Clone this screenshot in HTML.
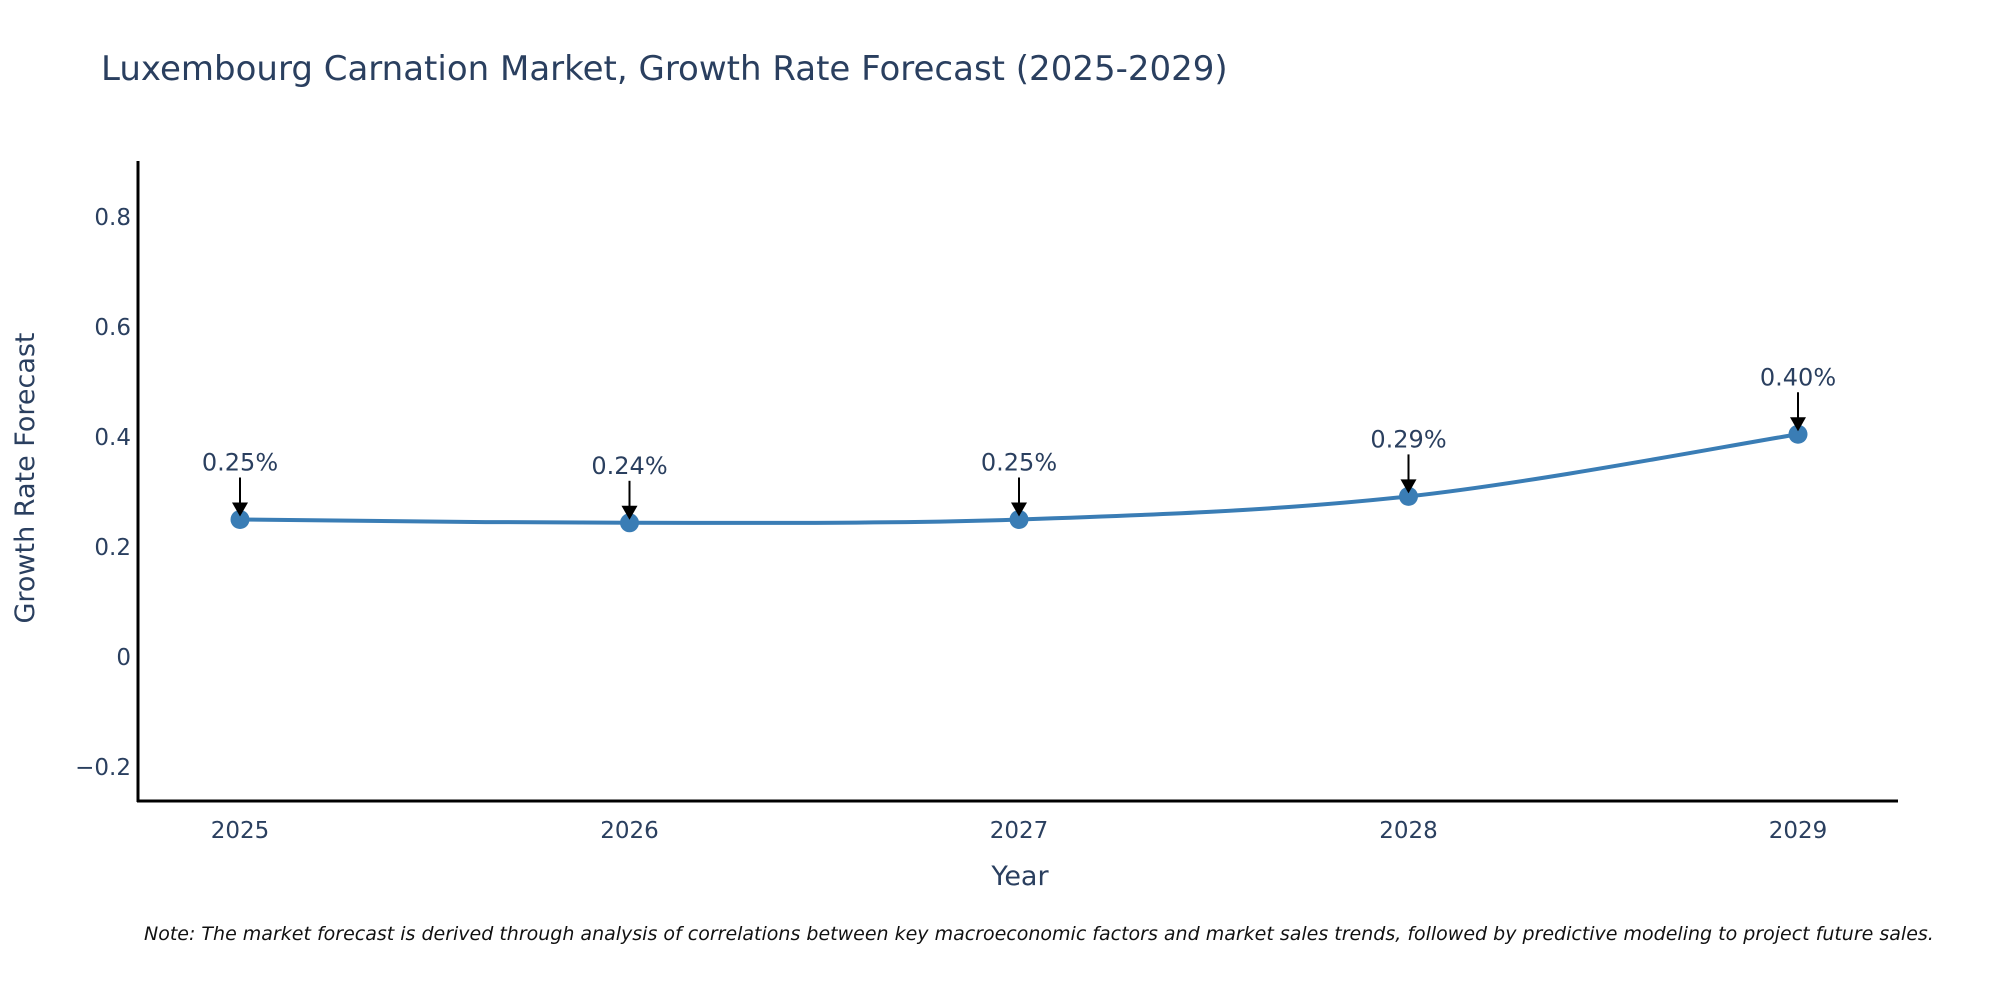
<!DOCTYPE html>
<html><head><meta charset="utf-8"><style>
body{margin:0;background:#fff;}
svg text{font-family:"DejaVu Sans","Liberation Sans",sans-serif;fill:#2a3f5f;}
</style></head><body>
<svg id="chart" width="2000" height="1000" viewBox="0 0 2000 1000" xmlns="http://www.w3.org/2000/svg">
<rect width="2000" height="1000" fill="#fff"/>
<text x="101" y="80" font-size="34">Luxembourg Carnation Market, Growth Rate Forecast (2025-2029)</text>
<g id="yticks"></g>
<g id="xticks"></g>
<line x1="138" y1="161" x2="138" y2="802" stroke="#000" stroke-width="3"/>
<line x1="137" y1="801" x2="1898" y2="801" stroke="#000" stroke-width="3"/>
<text transform="translate(34,478) rotate(-90)" text-anchor="middle" font-size="27">Growth Rate Forecast</text>
<text x="1020" y="885" text-anchor="middle" font-size="27">Year</text>
<g id="series"></g>
<g id="annots"></g>
<text x="144" y="940" font-size="19" font-style="italic" style="fill:#111">Note: The market forecast is derived through analysis of correlations between key macroeconomic factors and market sales trends, followed by predictive modeling to project future sales.</text>
</svg>
<script>
const years = [2025, 2026, 2027, 2028, 2029];
const values = [0.25, 0.244, 0.25, 0.292, 0.405];
const labels = ["0.25%", "0.24%", "0.25%", "0.29%", "0.40%"];
const yTickVals = [-0.2, 0, 0.2, 0.4, 0.6, 0.8];
const yTickLabels = ["\u22120.2", "0", "0.2", "0.4", "0.6", "0.8"];

const NS = "http://www.w3.org/2000/svg";
function xScale(yr){ return 240 + (yr - 2025) * 389.5; }
function yScale(v){ return 657 - v * 550; }
function mk(tag, attrs, parent){ const e=document.createElementNS(NS,tag); for(const k in attrs) e.setAttribute(k,attrs[k]); parent.appendChild(e); return e; }

const yt=document.getElementById('yticks');
yTickVals.forEach((v,i)=>{
  const t=mk('text',{x:131,y:yScale(v)+8,'text-anchor':'end','font-size':23},yt);
  t.textContent=yTickLabels[i];
  
  
});
const xt=document.getElementById('xticks');
years.forEach(yr=>{
  const t=mk('text',{x:xScale(yr),y:838,'text-anchor':'middle','font-size':23},xt);
  t.textContent=String(yr);
  
  
});

const pts=years.map((yr,i)=>[xScale(yr),yScale(values[i])]);
let d='M'+pts[0][0]+','+pts[0][1];
for(let i=0;i<pts.length-1;i++){
  const p0=pts[Math.max(0,i-1)],p1=pts[i],p2=pts[i+1],p3=pts[Math.min(pts.length-1,i+2)];
  const c1=[p1[0]+(p2[0]-p0[0])/6,p1[1]+(p2[1]-p0[1])/6];
  const c2=[p2[0]-(p3[0]-p1[0])/6,p2[1]-(p3[1]-p1[1])/6];
  d+=' C'+c1.join(',')+' '+c2.join(',')+' '+p2.join(',');
}
const s=document.getElementById('series');
const line=mk('path',{d:d,fill:'none',stroke:'#3a7db5','stroke-width':4},s);


pts.forEach(p=>{
  const c=mk('circle',{cx:p[0],cy:p[1],r:9.5,fill:'#3a7db5'},s);
  
  
});
const a=document.getElementById('annots');
pts.forEach((p,i)=>{
  const ln=mk('line',{x1:p[0],y1:p[1]-42,x2:p[0],y2:p[1]-14,stroke:'#000','stroke-width':2},a);
  
  
  const hd=mk('polygon',{points:(p[0]-8)+','+(p[1]-17)+' '+(p[0]+8)+','+(p[1]-17)+' '+p[0]+','+(p[1]-3),fill:'#000'},a);
  
  
  const t=mk('text',{x:p[0],y:p[1]-49,'text-anchor':'middle','font-size':24},a);
  t.textContent=labels[i];
  
  
});
</script>
</body></html>
